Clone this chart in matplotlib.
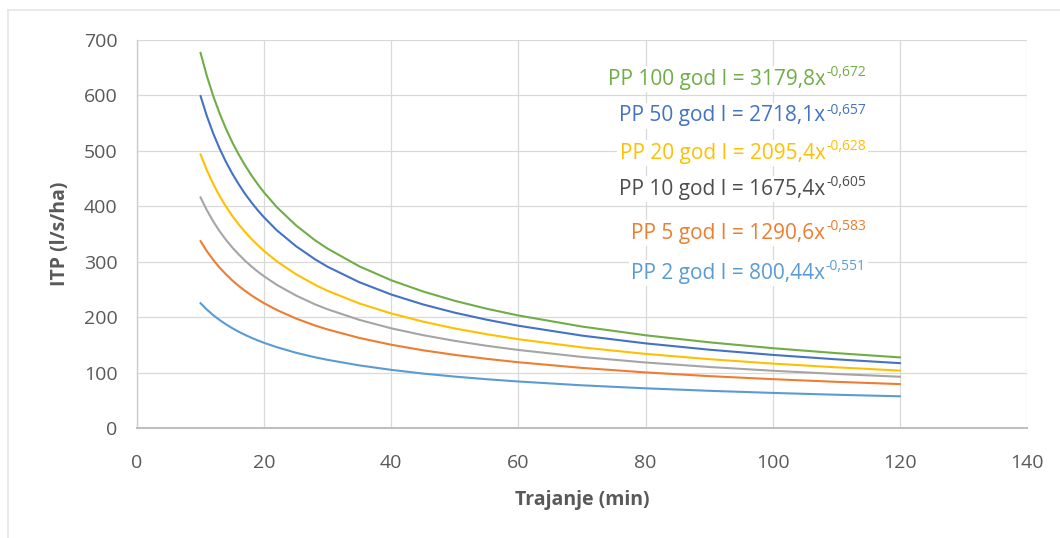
import matplotlib
matplotlib.use("Agg")
import matplotlib.pyplot as plt
from matplotlib.lines import Line2D

plt.rcParams['font.family'] = ['Open Sans', 'DejaVu Sans']

# Duration (min)
x_min = [10, 11, 12, 13, 14, 15, 16, 17, 18, 19, 20, 22, 25, 28, 30, 35, 40, 45, 50, 55, 60, 70, 80, 90, 100, 110, 120]

# ITP values (l/s/ha)
pp100 = [676.7, 634.7, 598.7, 567.3, 539.7, 515.2, 493.5, 473.8, 455.9, 439.7, 424.8, 398.4, 365.7, 338.7, 323.5, 291.5, 266.5, 246.3, 229.4, 215.2, 203.0, 183.0, 167.3, 154.6, 144.0, 135.1, 127.4]
pp50  = [598.8, 562.4, 531.1, 503.9, 480.0, 458.8, 439.8, 422.4, 407.0, 392.8, 379.8, 356.6, 328.1, 304.4, 290.8, 262.9, 240.8, 222.9, 208.0, 195.4, 184.5, 166.7, 152.7, 141.3, 131.9, 123.9, 117.0]
pp20  = [493.5, 464.8, 440.1, 418.5, 399.4, 382.5, 367.3, 353.7, 341.1, 329.8, 319.3, 300.7, 277.5, 258.4, 247.4, 224.6, 206.6, 191.9, 179.6, 169.2, 160.2, 145.4, 133.7, 124.2, 116.2, 109.5, 103.6]
pp10  = [416.0, 392.7, 372.6, 354.9, 339.4, 325.5, 313.2, 301.8, 291.5, 282.1, 273.6, 258.2, 239.1, 223.1, 214.1, 195.0, 179.8, 167.5, 157.2, 148.3, 140.8, 128.2, 118.2, 110.1, 103.3, 97.5, 92.5]
pp5   = [337.1, 318.9, 303.2, 289.3, 277.1, 266.1, 256.3, 247.4, 239.3, 231.9, 225.1, 212.9, 197.6, 184.9, 177.7, 162.4, 150.2, 140.2, 131.9, 124.8, 118.6, 108.4, 100.3, 93.6, 88.1, 83.3, 79.2]
pp2   = [225.1, 213.5, 203.5, 194.8, 187.0, 180.0, 173.7, 168.0, 162.8, 158.0, 153.6, 145.8, 135.8, 127.6, 122.9, 112.9, 104.9, 98.2, 92.7, 88.0, 83.9, 77.0, 71.6, 67.1, 63.3, 60.0, 57.2]

series = [pp100, pp50, pp20, pp10, pp5, pp2]
colors = ['#70AD47', '#4472C4', '#FFC000', '#A5A5A5', '#ED7D31', '#5B9BD5']
text_colors = ['#70AD47', '#4472C4', '#FFC000', '#4D4D4D', '#ED7D31', '#5B9BD5']
label_main = ['PP 100 god I = 3179,8x', 'PP 50 god I = 2718,1x', 'PP 20 god I = 2095,4x',
              'PP 10 god I = 1675,4x', 'PP 5 god I = 1290,6x', 'PP 2 god I = 800,44x']
label_sup = ['-0,672', '-0,657', '-0,628', '-0,605', '-0,583', '-0,551']

x_ticks = [0, 20, 40, 60, 80, 100, 120, 140]
y_ticks = [0, 100, 200, 300, 400, 500, 600, 700]

fig = plt.figure(figsize=(10.6, 5.38), dpi=100)
fig.patch.set_facecolor('white')

# outer frame lines
fig.add_artist(Line2D([8/1060, 8/1060], [0, 1 - 10/538], color='#E6E6E6', lw=1.2))
fig.add_artist(Line2D([8/1060, 1], [1 - 10/538, 1 - 10/538], color='#E6E6E6', lw=1.2))

ax = fig.add_axes([137/1060, 1 - 428/538, 890/1060, 388/538])
for s, c in zip(series, colors):
    ax.plot(x_min, s, color=c, lw=1.5, zorder=3, solid_joinstyle='round')

ax.set_xlim(0, 140)
ax.set_ylim(0, 700)
ax.set_xticks(x_ticks)
ax.set_yticks(y_ticks)
ax.grid(True, color='#D9D9D9', lw=0.9, zorder=0)
ax.set_axisbelow(True)
for side in ['top', 'right']:
    ax.spines[side].set_visible(False)
ax.spines['left'].set_color('#C5CCDA')
ax.spines['left'].set_linewidth(1.0)
ax.spines['bottom'].set_color('#BFBFBF')
ax.spines['bottom'].set_linewidth(1.5)
ax.tick_params(axis='both', length=0, labelsize=14, colors='#595959')
ax.tick_params(axis='x', pad=19)
ax.tick_params(axis='y', pad=14)
ax.set_xlabel('Trajanje (min)', fontsize=14, fontweight='bold', color='#595959', labelpad=13)
ax.set_ylabel('ITP (l/s/ha)', fontsize=14, fontweight='bold', color='#595959', labelpad=10)

# equation labels
y_pos = [79, 116, 153, 189, 233, 273]
x_right = 866 / 1060
for m, sp, tc, yp in zip(label_main, label_sup, text_colors, y_pos):
    yf = 1 - yp / 538
    st = fig.text(x_right, yf + 6/538, sp, fontsize=10, color=tc, ha='right', va='center',
                  bbox=dict(facecolor='white', edgecolor='none', pad=1.5), zorder=4)
    ax.annotate(m, xy=(0, yf), xycoords=(st, 'figure fraction'), xytext=(-0.5, 0),
                textcoords='offset points',
                fontsize=15, color=tc, ha='right', va='center',
                bbox=dict(facecolor='white', edgecolor='none', pad=2), zorder=5,
                annotation_clip=False)

fig.savefig('out.png', dpi=100, facecolor='white')
